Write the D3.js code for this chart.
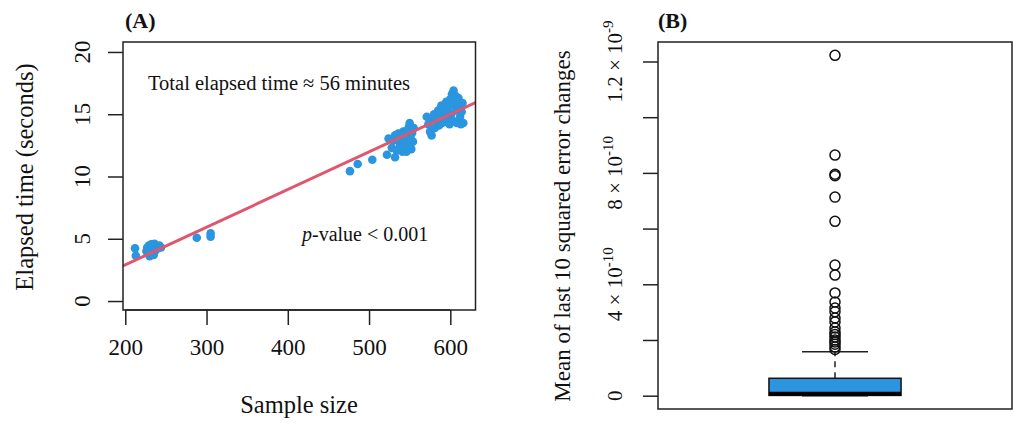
<!DOCTYPE html>
<html>
<head>
<meta charset="utf-8">
<script src="https://cdn.jsdelivr.net/npm/d3@7"></script>
<style>
  body { margin: 0; background: #fff; }
  text { font-family: "Liberation Serif", "Times New Roman", serif; fill: #111; }
</style>
</head>
<body>
<div id="chart"></div>
<script>
// panel A: sample size vs elapsed time (seconds)
var sampleSize = [212, 213, 226, 227, 228, 229, 230, 231, 232, 233, 234, 235, 236, 237, 238, 240, 242, 244, 230, 235,
	288, 305, 305,
	476.5, 486, 504, 522, 532,
	524, 528, 530, 532, 534, 536, 538, 540, 541, 542, 543, 544, 545, 546, 547, 548, 549, 550, 551, 552, 553, 554, 555, 546, 550,
	571, 573, 575, 577, 578, 580, 581, 583, 585, 586, 587, 588, 589, 590, 592, 593, 594, 595, 596, 597, 598, 599,
	600, 601, 602, 603, 604, 605, 606, 607, 608, 609, 610, 611, 612, 613, 614, 615, 616];
var elapsed = [4.23, 3.64, 4.0, 4.3, 3.8, 4.45, 4.1, 3.75, 4.55, 4.2, 3.9, 4.35, 4.6, 4.05, 4.4, 4.25, 4.45, 4.3, 3.6, 3.7,
	5.08, 5.43, 5.17,
	10.43, 11.0, 11.35, 11.75, 11.55,
	13.05, 12.3, 12.9, 13.3, 12.1, 13.45, 12.6, 13.2, 12.0, 13.6, 12.8, 12.35, 13.3, 12.0, 13.7, 12.6, 14.0, 14.3, 13.1, 12.2, 13.5, 12.8, 13.9, 12.5, 12.4,
	14.8, 14.2, 13.6, 13.3, 14.6, 15.0, 13.9, 14.4, 15.3, 14.1, 15.1, 14.7, 15.7, 14.3, 15.5, 14.9, 14.4, 16.0, 15.2, 14.6, 15.6, 14.2,
	16.2, 15.0, 16.6, 14.5, 16.9, 15.8, 16.5, 15.3, 14.3, 16.1, 16.3, 15.5, 14.8, 14.2, 15.2, 15.9, 14.3];
var fitIntercept = -3.13;
var fitSlope = 0.0302;
var xTicksA = [200, 300, 400, 500, 600];
var yTicksA = [0, 5, 10, 15, 20];

// panel B: boxplot of mean of last 10 squared error changes (units of 1e-10)
var boxStats = {q1: 0.01, median: 0.07, q3: 0.625, low: 0, high: 1.58};
var outliers = [12.22, 8.64, 7.95, 7.90, 7.13, 6.26, 4.69, 4.33, 3.69, 3.36, 3.15, 3.01, 2.79, 2.65, 2.43, 2.29,
	2.11, 1.93, 1.75, 1.66, 2.0, 2.2, 1.85];
var yTicksB = [0, 2, 4, 6, 8, 10, 12];
var yLabelsB = [{v: 0, base: "0", sup: ""}, {v: 4, base: "4 \u00d7 10", sup: "-10"},
	{v: 8, base: "8 \u00d7 10", sup: "-10"}, {v: 12, base: "1.2 \u00d7 10", sup: "-9"}];

var blue = "#2b95df";

var svg = d3.select("#chart").append("svg")
	.attr("width", 1014)
	.attr("height", 426);

// ---------- panel A ----------
var x = d3.scaleLinear().domain([197.2, 631]).range([123, 475.5]);
var y = d3.scaleLinear().domain([-0.72, 20.8]).range([310, 42]);

var gA = svg.append("g");

gA.append("clipPath").attr("id", "clipA")
	.append("rect")
	.attr("x", 123).attr("y", 42)
	.attr("width", 352.5).attr("height", 268);

gA.append("g")
	.attr("transform", "translate(0,310)")
	.call(d3.axisBottom(x).tickValues(xTicksA).tickSize(15).tickSizeOuter(0).tickPadding(14))
	.call(function(g) {
		g.select(".domain").attr("d", "M" + x(200) + ",0H" + x(600)).attr("stroke", "#222").attr("stroke-width", 1.5);
		g.selectAll(".tick line").attr("stroke", "#222").attr("stroke-width", 1.5);
		g.selectAll("text").attr("font-size", 23).attr("font-family", "Liberation Serif").attr("fill", "#111");
	});

var yAxisA = gA.append("g")
	.attr("transform", "translate(123,0)")
	.call(d3.axisLeft(y).tickValues(yTicksA).tickSize(15).tickSizeOuter(0).tickFormat(""));
yAxisA.select(".domain").remove();
yAxisA.selectAll(".tick line").attr("stroke", "#222").attr("stroke-width", 1.5);

gA.selectAll(".ylabA")
	.data(yTicksA)
	.enter().append("text")
	.attr("class", "ylabA")
	.attr("transform", function(d) { return "translate(90," + y(d) + ")rotate(-90)"; })
	.attr("text-anchor", "middle")
	.attr("font-size", 23)
	.text(function(d) { return d; });

gA.append("g")
	.attr("clip-path", "url(#clipA)")
	.selectAll("circle")
	.data(sampleSize)
	.enter().append("circle")
	.attr("cx", function(d) { return x(d); })
	.attr("cy", function(d, i) { return y(elapsed[i]); })
	.attr("r", 4.3)
	.attr("fill", blue);

gA.append("line")
	.attr("clip-path", "url(#clipA)")
	.attr("x1", x(197.2)).attr("y1", y(fitIntercept + fitSlope * 197.2))
	.attr("x2", x(631)).attr("y2", y(fitIntercept + fitSlope * 631))
	.attr("stroke", "#e0566e")
	.attr("stroke-width", 3);

gA.append("rect")
	.attr("x", 123).attr("y", 42)
	.attr("width", 352.5).attr("height", 268)
	.attr("fill", "none").attr("stroke", "#222").attr("stroke-width", 1.5);

gA.append("text")
	.attr("x", 148).attr("y", 90)
	.attr("font-size", 20.5)
	.text("Total elapsed time \u2248 56 minutes");

var pv = gA.append("text")
	.attr("x", 302).attr("y", 241)
	.attr("font-size", 20);
pv.append("tspan").attr("font-style", "italic").text("p");
pv.append("tspan").text("-value < 0.001");

gA.append("text")
	.attr("x", 299).attr("y", 413)
	.attr("text-anchor", "middle")
	.attr("font-size", 24.5)
	.text("Sample size");

gA.append("text")
	.attr("transform", "translate(33,177)rotate(-90)")
	.attr("text-anchor", "middle")
	.attr("font-size", 24.5)
	.text("Elapsed time (seconds)");

gA.append("text")
	.attr("x", 125).attr("y", 28)
	.attr("font-size", 22)
	.attr("font-weight", "bold")
	.text("(A)");

// ---------- panel B ----------
var xb = d3.scaleBand().domain(["all"]).range([658, 1012]).paddingOuter(0.84);
var yb = d3.scaleLinear().domain([-0.478, 12.70]).range([409, 42]);

var gB = svg.append("g");

var yAxisB = gB.append("g")
	.attr("transform", "translate(658,0)")
	.call(d3.axisLeft(yb).tickValues(yTicksB).tickSize(15).tickSizeOuter(0).tickFormat(""));
yAxisB.select(".domain").remove();
yAxisB.selectAll(".tick line").attr("stroke", "#222").attr("stroke-width", 1.5);

var labB = gB.selectAll(".ylabB")
	.data(yLabelsB)
	.enter().append("text")
	.attr("class", "ylabB")
	.attr("transform", function(d) { return "translate(622," + yb(d.v) + ")rotate(-90)"; })
	.attr("text-anchor", "middle")
	.attr("font-size", 21);
labB.append("tspan").text(function(d) { return d.base; });
labB.append("tspan")
	.attr("dy", -9)
	.attr("font-size", 15)
	.text(function(d) { return d.sup; });

var cx = xb("all") + xb.bandwidth() / 2;
var bw = xb.bandwidth();

// whisker (dashed) and caps
gB.append("line")
	.attr("x1", cx).attr("x2", cx)
	.attr("y1", yb(boxStats.q3)).attr("y2", yb(boxStats.high))
	.attr("stroke", "#222").attr("stroke-width", 1.5).attr("stroke-dasharray", "6,5");
gB.selectAll(".cap")
	.data([boxStats.low, boxStats.high])
	.enter().append("line")
	.attr("class", "cap")
	.attr("x1", cx - bw / 4).attr("x2", cx + bw / 4)
	.attr("y1", function(d) { return yb(d); }).attr("y2", function(d) { return yb(d); })
	.attr("stroke", "#222").attr("stroke-width", 1.5);

gB.append("rect")
	.attr("x", cx - bw / 2).attr("y", yb(boxStats.q3))
	.attr("width", bw).attr("height", yb(boxStats.q1) - yb(boxStats.q3))
	.attr("fill", blue).attr("stroke", "#111").attr("stroke-width", 1.5);

gB.append("line")
	.attr("x1", cx - bw / 2).attr("x2", cx + bw / 2)
	.attr("y1", yb(boxStats.median)).attr("y2", yb(boxStats.median))
	.attr("stroke", "#000").attr("stroke-width", 4);

gB.selectAll(".outlier")
	.data(outliers)
	.enter().append("circle")
	.attr("class", "outlier")
	.attr("cx", cx)
	.attr("cy", function(d) { return yb(d); })
	.attr("r", 5)
	.attr("fill", "none")
	.attr("stroke", "#111")
	.attr("stroke-width", 1.5);

gB.append("rect")
	.attr("x", 658).attr("y", 42)
	.attr("width", 354).attr("height", 367)
	.attr("fill", "none").attr("stroke", "#222").attr("stroke-width", 1.5);

gB.append("text")
	.attr("transform", "translate(570,226)rotate(-90)")
	.attr("text-anchor", "middle")
	.attr("font-size", 23)
	.text("Mean of last 10 squared error changes");

gB.append("text")
	.attr("x", 658).attr("y", 28)
	.attr("font-size", 22)
	.attr("font-weight", "bold")
	.text("(B)");
</script>
</body>
</html>
